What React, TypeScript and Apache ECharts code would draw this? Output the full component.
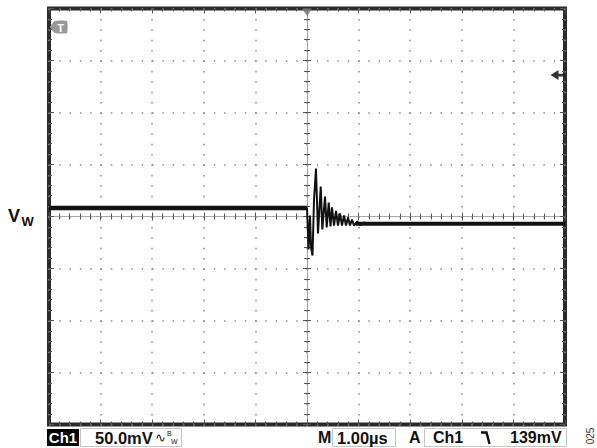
import React, { useEffect, useRef } from "react";
import * as echarts from "echarts";

// Time (µs, 1.00 µs/div) and voltage (mV, 50.0 mV/div)
const traceTimeUs = [
  -5, 0, 0.029, 0.058, 0.078, 0.107, 0.136, 0.174, 0.213, 0.266, 0.297, 0.349,
  0.382, 0.421, 0.455, 0.484, 0.523, 0.562, 0.601, 0.64, 0.678, 0.717, 0.756,
  0.795, 0.833, 0.872, 0.911, 0.969, 1.027, 1.105, 1.2, 5,
];
const traceMv = [
  8.2, 8.2, -31.7, 1.0, -29.8, -37.5, 16.3, 46.2, -16.3, 28.8, -12.5, 19.2,
  -10.6, 13.5, -9.6, 8.7, -8.7, 5.3, -8.7, 2.9, -8.7, 1.0, -8.7, -1.0, -8.7,
  -2.9, -8.7, -4.8, -8.2, -5.8, -7.2, -7.0,
];
// Flat (noisy, thick) levels before and after the transient
const preLevelTimeUs = [-5, 0];
const preLevelMv = [8.2, 8.2];
const postLevelTimeUs = [0.95, 5];
const postLevelMv = [-7.0, -7.0];
// Markers
const triggerPositionUs = 0;
const triggerLevelMv = 136;
// Axis ranges
const xMinUs = -5;
const xMaxUs = 5;
const xDivUs = 1;
const yMinMv = -200;
const yMaxMv = 200;
const yDivMv = 50;
// Readout texts
const chLabel = "Ch1";
const voltsPerDiv = "50.0mV";
const timePerDiv = "1.00µs";
const trigSource = "Ch1";
const trigLevelText = "139mV";
const figId = "025";

const FONT = "Liberation Sans, Arial, sans-serif";

export default function App() {
  const ref = useRef<HTMLDivElement>(null);

  useEffect(() => {
    document.body.style.margin = "0";
    if (!ref.current) return;
    const chart = echarts.init(ref.current, undefined, { renderer: "svg" });

    const zip = (a: number[], b: number[]) => a.map((v, i) => [v, b[i]]);

    const tickCol = "#555";
    const frameX = (position: "top" | "bottom", split: boolean) => ({
      type: "value",
      min: xMinUs,
      max: xMaxUs,
      interval: xDivUs,
      position,
      axisLine: { show: false, onZero: false },
      axisTick: { show: true, inside: true, length: 5, lineStyle: { color: tickCol, width: 1 } },
      minorTick: { show: true, splitNumber: 5, length: 3, lineStyle: { color: tickCol, width: 1 } },
      axisLabel: { show: false },
      splitLine: { show: split, lineStyle: { color: "#888", width: 1.5, type: [1.5, 8.9] } },
      minorSplitLine: { show: false },
    });
    const centerX = (inside: boolean) => ({
      type: "value",
      min: xMinUs,
      max: xMaxUs,
      interval: xDivUs,
      position: "bottom",
      axisLine: { show: true, onZero: true, lineStyle: { color: "#a8a8a8", width: 1 } },
      axisTick: { show: true, inside, length: 4, lineStyle: { color: tickCol, width: 1 } },
      minorTick: { show: true, splitNumber: 5, length: 3, lineStyle: { color: tickCol, width: 1 } },
      axisLabel: { show: false },
      splitLine: { show: false },
    });
    const frameY = (position: "left" | "right", split: boolean) => ({
      type: "value",
      min: yMinMv,
      max: yMaxMv,
      interval: yDivMv,
      position,
      axisLine: { show: false, onZero: false },
      axisTick: { show: true, inside: true, length: 5, lineStyle: { color: tickCol, width: 1 } },
      minorTick: { show: true, splitNumber: 5, length: 3, lineStyle: { color: tickCol, width: 1 } },
      axisLabel: { show: false },
      splitLine: { show: split, lineStyle: { color: "#888", width: 1.5, type: [1.5, 8.8] } },
    });
    const centerY = (inside: boolean) => ({
      type: "value",
      min: yMinMv,
      max: yMaxMv,
      interval: yDivMv,
      position: "left",
      axisLine: { show: true, onZero: true, lineStyle: { color: "#a0a0a0", width: 1 } },
      axisTick: { show: true, inside, length: 4, lineStyle: { color: tickCol, width: 1 } },
      minorTick: { show: true, splitNumber: 5, length: 3, lineStyle: { color: tickCol, width: 1 } },
      axisLabel: { show: false },
      splitLine: { show: false },
    });

    const txt = (x: number, text: string, extra: any = {}) => ({
      type: "text",
      x,
      y: 437.5,
      style: {
        text,
        fontFamily: FONT,
        fontSize: 16,
        fontWeight: "bold",
        fill: "#111",
        textVerticalAlign: "middle",
        ...extra,
      },
      z: 10,
    });
    const box = (x: number, w: number) => ({
      type: "rect",
      shape: { x, y: 428.5, width: w, height: 18 },
      style: { fill: "none", stroke: "#c4c4c4", lineWidth: 1 },
      z: 9,
    });

    chart.setOption({
      animation: false,
      backgroundColor: "#ffffff",
      grid: {
        left: 49,
        top: 8.5,
        width: 516,
        height: 416,
        show: true,
        borderWidth: 4,
        borderColor: "#2b2b2b",
        backgroundColor: "#ffffff",
        containLabel: false,
      },
      xAxis: [frameX("bottom", true), frameX("top", false), centerX(true), centerX(false)],
      yAxis: [frameY("left", true), frameY("right", false), centerY(true), centerY(false)],
      series: [
        {
          type: "line",
          data: zip(traceTimeUs, traceMv),
          showSymbol: false,
          lineStyle: { color: "#111", width: 2 },
          z: 5,
        },
        {
          type: "line",
          data: zip(preLevelTimeUs, preLevelMv),
          showSymbol: false,
          lineStyle: { color: "#111", width: 4.5 },
          z: 5,
        },
        {
          type: "line",
          data: zip(postLevelTimeUs, postLevelMv),
          showSymbol: false,
          lineStyle: { color: "#111", width: 4 },
          z: 5,
        },
        {
          type: "scatter",
          clip: false,
          data: [[triggerPositionUs, yMaxMv]],
          symbol: "path://M0,0 L10,0 L5,8 Z",
          symbolSize: [10, 7],
          symbolOffset: [0, 4],
          itemStyle: { color: "#777" },
          z: 6,
        },
        {
          type: "scatter",
          clip: false,
          data: [[xMaxUs, triggerLevelMv]],
          symbol: "path://M0,5 L8,0 L8,3.6 L13,3.6 L13,6.4 L8,6.4 L8,10 Z",
          symbolSize: [13, 10],
          symbolOffset: [-8, 0],
          itemStyle: { color: "#000" },
          z: 6,
        },
      ],
      graphic: [
        // Trigger "T" flag
        {
          type: "group",
          x: 50,
          y: 21,
          z: 10,
          children: [
            {
              type: "polygon",
              shape: { points: [[0, 6], [5, 0], [17, 0], [17, 12], [5, 12]], smooth: 0.15 },
              style: { fill: "#999" },
            },
            {
              type: "text",
              x: 10.5,
              y: 6.5,
              style: {
                text: "T",
                fontFamily: FONT,
                fontSize: 11,
                fontWeight: "bold",
                fill: "#fff",
                textAlign: "center",
                textVerticalAlign: "middle",
              },
            },
          ],
        },
        // V_W label
        {
          type: "text",
          x: 8,
          y: 216,
          style: {
            text: "V",
            fontFamily: FONT,
            fontSize: 18,
            fontWeight: "bold",
            fill: "#111",
            textVerticalAlign: "middle",
          },
        },
        {
          type: "text",
          x: 21.5,
          y: 221,
          style: {
            text: "W",
            fontFamily: FONT,
            fontSize: 13,
            fontWeight: "bold",
            fill: "#111",
            textVerticalAlign: "middle",
          },
        },
        // Readout bar
        {
          type: "rect",
          shape: { x: 47, y: 429, width: 32, height: 17 },
          style: { fill: "#000" },
          z: 9,
        },
        txt(63, chLabel, { fill: "#fff", textAlign: "center", fontSize: 15 }),
        box(80.5, 101),
        txt(95, voltsPerDiv, { fontSize: 16.5 }),
        txt(155, "∿", { fontSize: 13, fontWeight: "normal" }),
        { type: "text", x: 167, y: 433, style: { text: "B", fontFamily: FONT, fontSize: 7, fill: "#111", textVerticalAlign: "middle" }, z: 10 },
        { type: "text", x: 171, y: 441, style: { text: "W", fontFamily: FONT, fontSize: 7, fill: "#111", textVerticalAlign: "middle" }, z: 10 },
        txt(318, "M"),
        box(332.5, 63),
        txt(337, timePerDiv, { fontSize: 16.5 }),
        txt(409, "A"),
        box(424.5, 142),
        txt(433, trigSource),
        {
          type: "polyline",
          shape: { points: [[481, 432.5], [486.5, 432.5], [489.5, 444]] },
          style: { stroke: "#111", lineWidth: 2.4, fill: "none" },
          z: 10,
        },
        txt(510, trigLevelText),
        {
          type: "text",
          x: 590,
          y: 436,
          rotation: Math.PI / 2,
          style: {
            text: figId,
            fontFamily: FONT,
            fontSize: 10,
            fill: "#333",
            textAlign: "center",
            textVerticalAlign: "middle",
          },
        },
      ],
    });

    return () => chart.dispose();
  }, []);

  return (
    <div
      ref={ref}
      style={{ position: "absolute", left: 0, top: 0, width: 597, height: 448 }}
    />
  );
}
